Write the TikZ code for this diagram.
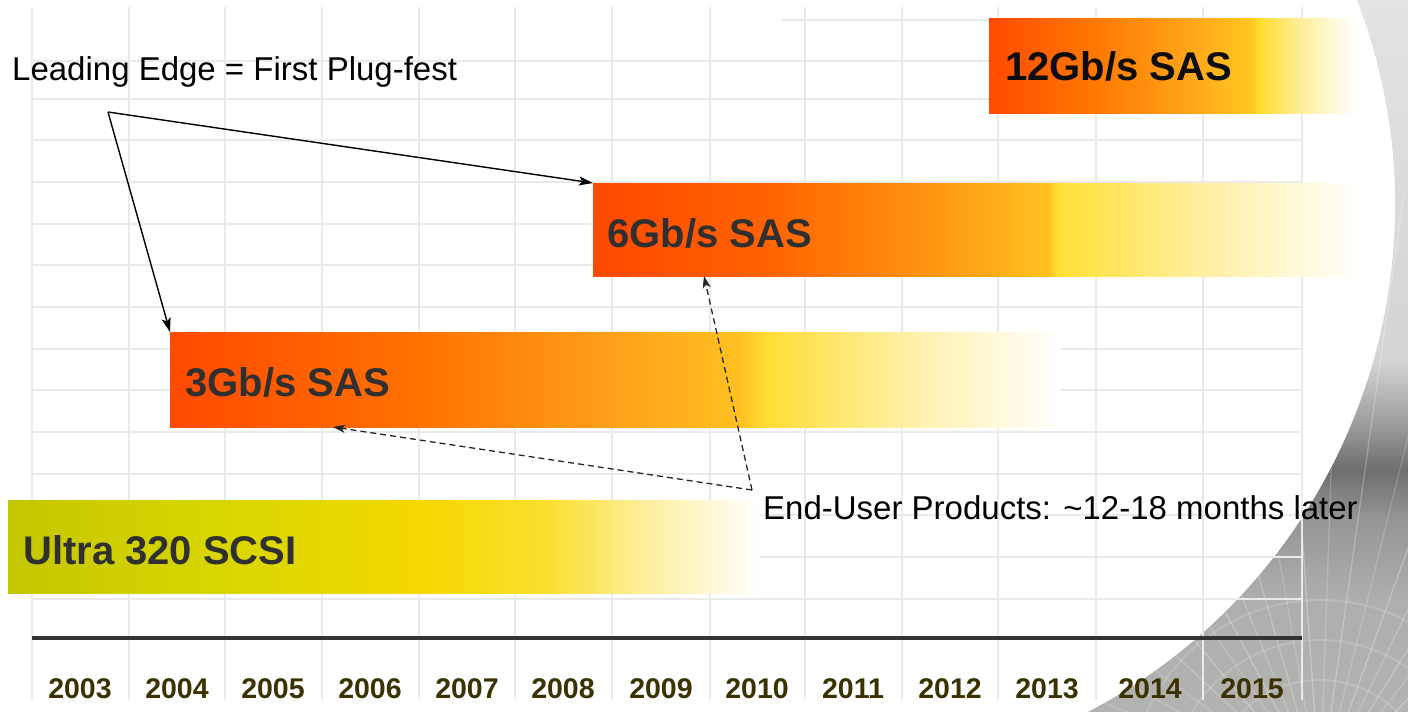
\documentclass[tikz,border=0pt]{standalone}
\usepackage{fontspec}
\setmainfont{Liberation Sans}
\usetikzlibrary{arrows.meta}

\definecolor{c12a}{HTML}{FF4A00}\definecolor{c12b}{HTML}{FF7A00}\definecolor{c12c}{HTML}{FFA51A}
\definecolor{c12d}{HTML}{FFC820}\definecolor{c12e}{HTML}{FFDC2A}\definecolor{c12f}{HTML}{FFEE9A}
\definecolor{c6a}{HTML}{FF4800}\definecolor{c6b}{HTML}{FF6200}\definecolor{c6c}{HTML}{FF9010}
\definecolor{c6d}{HTML}{FFC21F}\definecolor{c6e}{HTML}{FFDF35}\definecolor{c6f}{HTML}{FFEE99}
\definecolor{c3a}{HTML}{FF4A00}\definecolor{c3b}{HTML}{FF7000}\definecolor{c3c}{HTML}{FF9A18}
\definecolor{c3d}{HTML}{FFC020}\definecolor{c3e}{HTML}{FFDD35}\definecolor{c3f}{HTML}{FFF0A8}
\definecolor{cua}{HTML}{C4C600}\definecolor{cub}{HTML}{D6D400}\definecolor{cuc}{HTML}{E8D800}
\definecolor{cud}{HTML}{F5D800}\definecolor{cue}{HTML}{FADF30}\definecolor{cuf}{HTML}{FDEFA0}
\definecolor{g1}{HTML}{B2B2B0}\definecolor{g2}{HTML}{AEAEAC}\definecolor{g3}{HTML}{969694}
\definecolor{g4}{HTML}{6E6E6C}\definecolor{g5}{HTML}{A0A09E}\definecolor{g6}{HTML}{D4D4D4}
\definecolor{g7}{HTML}{E3E3E3}
\definecolor{gridc}{HTML}{EAEAEA}
\definecolor{yearc}{HTML}{3A3200}
\definecolor{labc}{HTML}{303030}

\pgfdeclarehorizontalshading{shtwelve}{100bp}{color(0bp)=(c12a); color(25bp)=(c12a); color(40bp)=(c12b); color(52.5bp)=(c12c); color(61bp)=(c12d); color(61.75bp)=(c12e); color(67.5bp)=(c12f); color(75bp)=(white); color(100bp)=(white)}
\pgfdeclarehorizontalshading{shsix}{100bp}{color(0bp)=(c6a); color(25bp)=(c6a); color(36bp)=(c6b); color(46bp)=(c6c); color(54.75bp)=(c6d); color(55.25bp)=(c6e); color(64bp)=(c6f); color(75bp)=(white); color(100bp)=(white)}
\pgfdeclarehorizontalshading{shthree}{100bp}{color(0bp)=(c3a); color(25bp)=(c3a); color(38.5bp)=(c3b); color(48.5bp)=(c3c); color(57bp)=(c3d); color(58.5bp)=(c3e); color(66.5bp)=(c3f); color(75bp)=(white); color(100bp)=(white)}
\pgfdeclarehorizontalshading{shultra}{100bp}{color(0bp)=(cua); color(25bp)=(cua); color(37.5bp)=(cub); color(47.5bp)=(cuc); color(52.5bp)=(cud); color(61bp)=(cue); color(67.5bp)=(cuf); color(75bp)=(white); color(100bp)=(white)}
\pgfdeclareverticalshading{shgray}{100bp}{color(0bp)=(g1); color(25bp)=(g1); color(32.9bp)=(g2); color(38.5bp)=(g3); color(42bp)=(g4); color(45.5bp)=(g5); color(49.7bp)=(g6); color(75bp)=(g7); color(100bp)=(g7)}

\begin{document}
\begin{tikzpicture}[x=1pt,y=-1pt,
  gridline/.style={draw=gridc,line width=1.5pt},
  bar/.style={inner sep=0pt,outer sep=0pt,anchor=north west,shade,draw=none},
  barlabel/.style={inner sep=0pt,anchor=base west,text=labc,font=\fontsize{40}{48}\selectfont\bfseries},
  note/.style={inner sep=0pt,anchor=base west,text=black,font=\fontsize{33}{40}\selectfont},
  yearlabel/.style={inner sep=0pt,anchor=base,text=yearc,font=\fontsize{28.5}{34}\selectfont\bfseries},
  solidarrow/.style={draw=black,line width=1.4pt,-{Stealth[length=14pt,width=9pt,inset=3pt]}},
  dasharrow/.style={draw=black!85,line width=1.3pt,dash pattern=on 6pt off 4pt,-{Stealth[length=12pt,width=8pt,inset=3pt]}}]

\useasboundingbox (0,0) rectangle (1408,712);

% background decoration on the right (outside a large circle)
\begin{scope}
  \clip (0,0) rectangle (1408,712);
  \clip ([shift={(-22:572)}]823,205) arc[start angle=-22,end angle=64,radius=572]
        -- (1420,730) -- (1420,-10) -- cycle;
  \shade[shading=shgray] (1000,0) rectangle (1408,712);
  \foreach \a/\o in {-20/0.2,-27/0.15,-33/0.25,-40/0.18,-46/0.28,-52/0.18,-58/0.25,-64/0.2,-70/0.28,-76/0.18,-82/0.25,-88/0.2,-94/0.28,-100/0.18,-106/0.25,-112/0.2,-118/0.28,-124/0.18,-130/0.25,-137/0.2,-144/0.18,-151/0.2,-158/0.18,-165/0.15}
    \draw[white,opacity=\o,line width=1.3pt] (1320,790) -- ++(\a:600);
  \foreach \r in {110,150,190}
    \draw[white,opacity=0.15,line width=2pt] (1320,790) circle[radius=\r];
\end{scope}

% grid
\draw[gridline] (782,20) -- (1302,20);
\foreach \y in {61,99,140,182,224,265,307,349,390,432,474,515,557,599}
  \draw[gridline] (32,\y) -- (1302,\y);
\foreach \x in {32,129,225,322,419,515,612,710,805,902,998,1096,1203,1302}
  \draw[gridline] (\x,7) -- (\x,700);

% axis
\draw[line width=3.5pt,draw=black!80] (32,638) -- (1302,638);

% bars
\node[bar,shading=shtwelve,minimum width=366pt,minimum height=95pt] (b12) at (989,18) {};
\node[bar,shading=shsix,minimum width=767pt,minimum height=93pt] (b6) at (593,183) {};
\node[bar,shading=shthree,minimum width=890pt,minimum height=95pt] (b3) at (170,332) {};
\node[bar,shading=shultra,minimum width=752pt,minimum height=93pt] (bu) at (8,500) {};

% bar labels
\node[barlabel,text=black!95] (l12) at (1005,80) {12Gb/s SAS};
\node[barlabel] (l6) at (607,247) {6Gb/s SAS};
\node[barlabel] (l3) at (185,396) {3Gb/s SAS};
\node[barlabel] (lu) at (23,564) {Ultra 320 SCSI};

% notes
\node[note] (lead) at (12,80) {Leading Edge = First Plug-fest};
\node[note] (eu) at (763,519) {End-User Products: \textasciitilde 12-18 months later};

% connectors
\coordinate (f1) at (108,112);
\coordinate (f2) at (752,490);
\draw[solidarrow] (f1) -- (b6.north west);
\draw[solidarrow] (f1) -- (b3.north west);
\draw[dasharrow] (f2) -- ([xshift=163pt]b3.south west);
\draw[dasharrow] (f2) -- ([xshift=111pt]b6.south west);

% years
\foreach \yr/\xc in {2003/80,2004/177,2005/273,2006/370,2007/467,2008/563,2009/661,2010/757,2011/853,2012/950,2013/1047,2014/1150,2015/1252}
  \node[yearlabel] (y\yr) at (\xc,698) {\yr};

\end{tikzpicture}
\end{document}
